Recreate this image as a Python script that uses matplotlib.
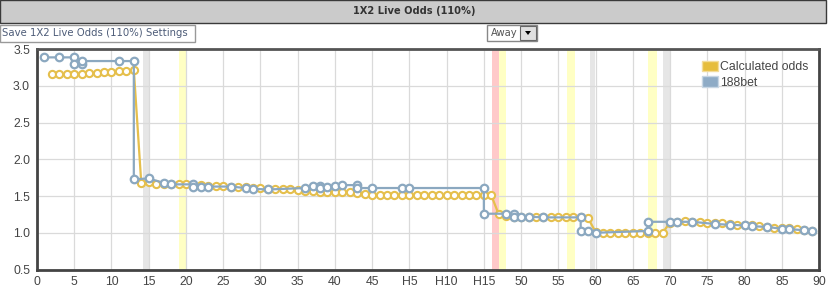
import matplotlib
matplotlib.use("Agg")
import matplotlib.pyplot as plt
from matplotlib.patches import Rectangle, Patch, Polygon

# ---------------- data ----------------
tick_pos = [0, 5, 10, 15, 20, 25, 30, 35, 40, 45, 50, 55, 60, 65, 70, 75, 80, 85, 90, 95, 100, 105]
tick_labels = ["0", "5", "10", "15", "20", "25", "30", "35", "40", "45", "H5", "H10", "H15",
               "50", "55", "60", "65", "70", "75", "80", "85", "90"]
y_ticks = [0.5, 1.0, 1.5, 2.0, 2.5, 3.0, 3.5]

calc_x = list(range(2, 105))
calc_y = [3.16, 3.16, 3.16, 3.17, 3.17, 3.18, 3.18, 3.19, 3.19, 3.20, 3.21, 3.22,
          1.68, 1.69, 1.66, 1.67, 1.66, 1.66, 1.66, 1.65, 1.65, 1.64, 1.64, 1.64,
          1.63, 1.62, 1.62, 1.61, 1.61, 1.60, 1.59, 1.59, 1.59, 1.58, 1.57, 1.57,
          1.56, 1.56, 1.55, 1.55, 1.56, 1.54, 1.53, 1.52, 1.51, 1.51, 1.51, 1.51,
          1.51, 1.51, 1.51, 1.51, 1.51, 1.51, 1.51, 1.51, 1.51, 1.51, 1.51, 1.51,
          1.25, 1.23, 1.22, 1.22, 1.22, 1.22, 1.21, 1.21, 1.21, 1.21, 1.21, 1.21, 1.20,
          1.01, 1.00, 1.00, 1.00, 1.00, 1.00, 1.00, 1.00, 1.00, 1.00,
          1.14, 1.15, 1.16, 1.15, 1.15, 1.14, 1.13, 1.13, 1.12, 1.11, 1.10, 1.10,
          1.09, 1.08, 1.07, 1.06, 1.06, 1.05, 1.04, 1.03]

bet_x = [1, 3, 5, 5, 6, 6, 11, 13, 13, 15, 17, 18, 21, 21, 22, 23, 26, 28, 29, 31,
         36, 37, 38, 38, 39, 40, 41, 43, 43, 45, 49, 50, 60, 60, 63, 64, 64, 65, 66, 68,
         73, 73, 74, 75, 82, 82, 85, 86, 88, 91, 93, 95, 96, 98, 100, 101, 103, 104]
bet_y = [3.39, 3.39, 3.39, 3.30, 3.30, 3.34, 3.34, 3.34, 1.73, 1.74, 1.68, 1.66, 1.66, 1.62,
         1.62, 1.63, 1.63, 1.61, 1.60, 1.59, 1.61, 1.64, 1.64, 1.61, 1.62, 1.64, 1.65, 1.65,
         1.61, 1.61, 1.61, 1.61, 1.61, 1.26, 1.26, 1.26, 1.22, 1.22, 1.22, 1.21, 1.21, 1.025,
         1.025, 1.00, 1.025, 1.15, 1.15, 1.15, 1.15, 1.12, 1.11, 1.10, 1.09, 1.08, 1.055,
         1.05, 1.035, 1.03]

band_start = [14.2, 19.0, 61.1, 62.1, 71.1, 74.2, 82.0, 84.1]
band_end = [15.0, 20.0, 62.1, 63.0, 72.2, 74.9, 83.2, 85.1]
band_kind = ["gray", "yellow", "red", "yellow", "yellow", "gray", "yellow", "gray"]

series_names = ["Calculated odds", "188bet"]

# ---------------- style ----------------
W, H = 829, 294
YEL = "#e5bf4c"
BLU = "#8ba8c0"
band_colors = {"gray": "#e6e6e6", "yellow": "#ffffc4", "red": "#ffc9c9"}
plt.rcParams["font.family"] = ["Liberation Sans", "DejaVu Sans"]

fig = plt.figure(figsize=(W / 100, H / 100), dpi=100)
fig.patch.set_facecolor("white")


def fx(px):
    return px / W


def fy(py):
    return 1 - py / H


# header bar
fig.patches.append(Rectangle((fx(0), fy(22.5)), fx(826), 22.5 / H, transform=fig.transFigure,
                             facecolor="#cbcbcb", edgecolor="#3a3a3a", linewidth=1.0))
fig.text(fx(414), fy(11), "1X2 Live Odds (110%)", ha="center", va="center",
         fontsize=7.1, color="#333333", family=["DejaVu Sans"], weight="bold")

# save button
fig.patches.append(Rectangle((fx(0), fy(41.5)), fx(195), 17 / H, transform=fig.transFigure,
                             facecolor="white", edgecolor="#999999", linewidth=1.0))
fig.text(fx(2), fy(33), "Save 1X2 Live Odds (110%) Settings", ha="left", va="center",
         fontsize=7.3, color="#4d5c78", family=["DejaVu Sans"])

# dropdown
fig.patches.append(Rectangle((fx(487), fy(41)), fx(50), 16 / H, transform=fig.transFigure,
                             facecolor="white", edgecolor="#888888", linewidth=1.0))
fig.text(fx(491), fy(33), "Away", ha="left", va="center",
         fontsize=7.2, color="#555555", family=["DejaVu Sans"])
fig.patches.append(Rectangle((fx(520), fy(40)), fx(16), 14 / H, transform=fig.transFigure,
                             facecolor="#e0e0e0", edgecolor="#666666", linewidth=0.8))
fig.patches.append(Polygon([(fx(525), fy(31)), (fx(531), fy(31)), (fx(528), fy(35))],
                           closed=True, transform=fig.transFigure, facecolor="black"))

# plot area
x0, x1, ytop, ybot = 37, 819, 49.3, 269.5
ax = fig.add_axes([fx(x0), fy(ybot), (x1 - x0) / W, (ybot - ytop) / H])
ax.set_xlim(0, 105)
ax.set_ylim(0.5, 3.5)

for s, e, k in zip(band_start, band_end, band_kind):
    ax.axvspan(s, e, color=band_colors[k], zorder=0.5, linewidth=0)

ax.set_xticks(tick_pos)
ax.set_xticklabels(tick_labels)
ax.set_yticks(y_ticks)
ax.set_yticklabels([f"{v:.1f}" for v in y_ticks])
ax.grid(True, color="#dadada", linewidth=0.9, zorder=0.6)
ax.set_axisbelow(True)
ax.tick_params(length=0, labelsize=8.8, colors="#444444", pad=5)

for side, sp in ax.spines.items():
    sp.set_color("#444444")
    sp.set_linewidth(2.0)
ax.spines["top"].set_color("#555555")

ax.plot(calc_x, calc_y, color=YEL, linewidth=1.6, marker="o", markersize=5.2,
        markerfacecolor="white", markeredgecolor=YEL, markeredgewidth=1.5, zorder=3)
ax.plot(bet_x, bet_y, color=BLU, linewidth=1.6, marker="o", markersize=5.4,
        markerfacecolor="white", markeredgecolor=BLU, markeredgewidth=1.6, zorder=4)

handles = [Patch(facecolor="#e6bd3c", edgecolor="#f3dc9a", label=series_names[0]),
           Patch(facecolor="#8eabc6", edgecolor="#c7d6e4", label=series_names[1])]
ax.legend(handles=handles, loc="upper left", bbox_to_anchor=(0.842, 0.975), frameon=False,
          fontsize=8.8, handlelength=1.35, handleheight=0.95, handletextpad=0.2,
          labelspacing=0.25, borderpad=0, labelcolor="#444444")

fig.savefig("out.png", dpi=100)
